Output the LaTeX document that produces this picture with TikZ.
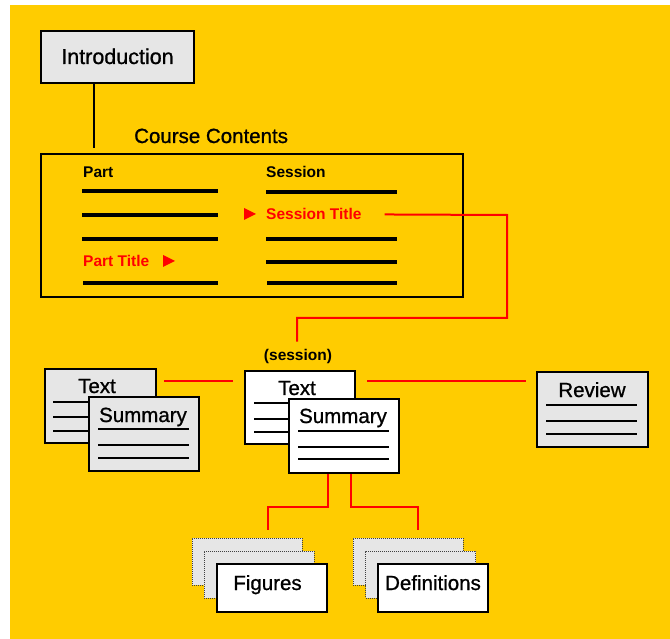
\documentclass[tikz,border=0pt]{standalone}
\usepackage{fontspec}
\setmainfont{Liberation Sans}
\newfontfamily\heavysans[FakeBold=0.9]{Liberation Sans}
\usetikzlibrary{calc}
\definecolor{bgyellow}{HTML}{FFCC00}
\definecolor{boxgray}{HTML}{E6E6E6}
\definecolor{linkred}{HTML}{FF0000}
\tikzset{
  card/.style={draw=black, line width=2.5pt, fill=boxgray, inner sep=0pt},
  wcard/.style={card, fill=white},
  ghost/.style={draw=black!75, densely dotted, line width=1pt, fill=boxgray, inner sep=0pt},
  frame/.style={draw=black, line width=2pt, inner sep=0pt},
  lbl/.style={font=\heavysans\fontsize{20.5}{20.5}\selectfont, inner sep=0pt, anchor=base},
  hdr/.style={font=\bfseries\fontsize{15.5}{15.5}\selectfont, inner sep=0pt, anchor=base west},
  rule/.style={line width=4pt},
  tline/.style={line width=2pt},
  link/.style={draw=linkred, line width=2pt},
  conn/.style={draw=black, line width=2pt},
  tri/.style={fill=linkred}
}
\begin{document}
\begin{tikzpicture}[x=1pt,y=-1pt]
\useasboundingbox (0,0) rectangle (670,639);
\fill[white] (0,0) rectangle (670,639);
\fill[bgyellow] (10,5) rectangle (670,639);

% Introduction
\node[card, minimum width=153pt, minimum height=52pt] (intro) at (117.5,57) {};
\node[lbl, font=\heavysans\fontsize{21.5}{21.5}\selectfont] (introT) at (117.5,64) {Introduction};
\draw[conn] ([xshift=-23.5pt]intro.south) -- ++(0,64);

% Course contents
\node[lbl, anchor=base west] (ccT) at (134,143) {Course Contents};
\node[frame, minimum width=422pt, minimum height=143pt] (course) at (252,225.5) {};
\node[hdr] (partH) at (83,178) {Part};
\node[hdr] (sesH) at (266,178) {Session};
\draw[rule] (82,191) -- (218,191);
\draw[rule] (82,215) -- (218,215);
\draw[rule] (82,239) -- (218,239);
\draw[rule] (83,283) -- (218,283);
\node[hdr, text=linkred] (ptitle) at (83,267) {Part Title};
\fill[tri] (163,255) -- (175,261) -- (163,267) -- cycle;
\draw[rule] (266,192) -- (397,192);
\draw[rule] (266,239) -- (397,239);
\draw[rule] (266,262) -- (397,262);
\draw[rule] (267,283) -- (397,283);
\node[hdr, text=linkred] (stitle) at (266,220) {Session Title};
\fill[tri] (244,208) -- (256,214) -- (244,220) -- cycle;

% session label and red route from the session title
\node[hdr, anchor=base] (sesL) at (298,360) {(session)};
\coordinate (r1) at (507,215);
\coordinate (r2) at (507,318);
\coordinate (r3) at (297,318);
\draw[link] ([xshift=23pt]stitle.east) -- (r1) -- (r2) -- (r3) -- ([yshift=7pt]sesL.north -| r3);

% left text / summary pair
\node[card, minimum width=111pt, minimum height=74pt] (lt) at (100.5,406) {};
\node[lbl] (ltT) at (97,393) {Text};
\draw[tline] (53,402) -- (150,402);
\draw[tline] (53,417) -- (150,417);
\draw[tline] (53,431) -- (150,431);
\node[card, minimum width=110pt, minimum height=74pt] (ls) at (144,434) {};
\node[lbl] (lsT) at (143,422) {Summary};
\draw[tline] (98,429) -- (189,429);
\draw[tline] (98,445) -- (189,445);
\draw[tline] (98,458) -- (189,458);

% centre text / summary pair
\node[wcard, minimum width=110pt, minimum height=73pt] (ct) at (300,407.5) {};
\node[lbl] (ctT) at (297,395) {Text};
\draw[tline] (254,403) -- (350,403);
\draw[tline] (254,419) -- (350,419);
\draw[tline] (254,432) -- (350,432);
\node[wcard, minimum width=110pt, minimum height=74pt] (cs) at (344,436) {};
\node[lbl] (csT) at (343,423) {Summary};
\draw[tline] (298,431) -- (389,431);
\draw[tline] (298,447) -- (389,447);
\draw[tline] (298,459) -- (389,459);

% review
\node[card, minimum width=111pt, minimum height=75pt] (rev) at (592.5,409.5) {};
\node[lbl] (revT) at (592,397) {Review};
\draw[tline] (546,405) -- (637,405);
\draw[tline] (546,421) -- (637,421);
\draw[tline] (546,434) -- (637,434);

% horizontal red links
\draw[link] ([xshift=7pt,yshift=-13pt]lt.north east) -- ([xshift=-11pt,yshift=-11pt]ct.north west);
\draw[link] ([xshift=11pt,yshift=-11pt]ct.north east) -- ([xshift=-10pt,yshift=-10pt]rev.north west);

% figures stack
\node[ghost, minimum width=110pt, minimum height=47pt] (fa) at (247,561.5) {};
\node[ghost, minimum width=110pt, minimum height=47pt] (fb) at (259,574.5) {};
\node[wcard, minimum width=110pt, minimum height=48pt] (fig) at (272,588) {};
\node[lbl] (figT) at (267.5,590) {Figures};

% definitions stack
\node[ghost, minimum width=110pt, minimum height=47pt] (da) at (408,561.5) {};
\node[ghost, minimum width=110pt, minimum height=47pt] (db) at (420.5,574.5) {};
\node[wcard, minimum width=110pt, minimum height=48pt] (def) at (433,588) {};
\node[lbl] (defT) at (433,590) {Definitions};

% red links down to the stacks
\coordinate (f1) at (268,507);
\coordinate (d1) at (418,507);
\draw[link] ([xshift=-16pt]cs.south) -- ([xshift=-16pt]cs.south |- f1) -- (f1) -- ([yshift=8pt]f1 |- fa.north);
\draw[link] ([xshift=7pt]cs.south) -- ([xshift=7pt]cs.south |- d1) -- (d1) -- ([yshift=8pt]d1 |- da.north);
\end{tikzpicture}
\end{document}
